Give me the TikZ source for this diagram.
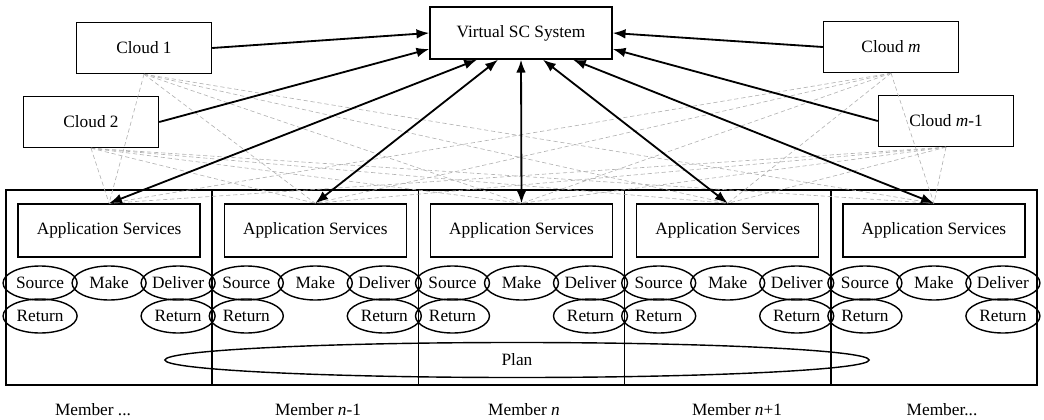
\documentclass[tikz,border=0pt]{standalone}
\usepackage{fontspec}
\setmainfont{Liberation Serif}
\usetikzlibrary{shapes.geometric,arrows.meta,positioning}

\tikzset{
  box/.style={draw,line width=1pt,inner sep=0pt},
  cloudbox/.style={box,minimum width=3.375cm,minimum height=1.275cm},
  scop/.style={draw,ellipse,line width=1pt,inner sep=0pt,minimum width=1.85cm,minimum height=0.85cm},
  link/.style={line width=1.3pt,-{Latex[length=3.2mm,width=2.4mm]}},
  twolink/.style={line width=1.3pt,{Latex[length=3.2mm,width=2.4mm]}-{Latex[length=3.2mm,width=2.4mm]}},
  faint/.style={gray!60,densely dashed,line width=0.45pt},
}

\begin{document}
\begin{tikzpicture}[x=0.025cm,y=-0.025cm,font=\fontsize{12.3}{14}\selectfont]
    \useasboundingbox (0,0) rectangle (1044,420);
    % virtual system and clouds
    \node[box,minimum width=4.55cm,minimum height=1.3cm] (vsc) at (521,33) {Virtual SC System};
    \node[cloudbox] (cloud1) at (144,48) {Cloud 1};
    \node[cloudbox] (cloud2) at (91,122) {Cloud 2};
    \node[cloudbox] (cloudm) at (891,47) {Cloud \textit{m}};
    \node[cloudbox] (cloudmm) at (946,121) {Cloud \textit{m}-1};
    % members
    \foreach \i in {1,...,5} {
        \pgfmathsetmacro\cx{109.1+206.2*(\i-1)}
        \node[box,minimum width=5.155cm,minimum height=4.875cm] (mem\i) at (\cx,287.5) {};
        \node[box,minimum width=4.55cm,minimum height=1.325cm] (app\i) at (\cx,230.5) {Application Services};
        \node[scop] (src\i) at (\cx-69,283) {Source};
        \node[scop] (mk\i) at (\cx,283) {Make};
        \node[scop] (dlv\i) at (\cx+69,283) {Deliver};
        \node[scop] (rtl\i) at (\cx-69,316) {Return};
        \node[scop] (rtr\i) at (\cx+69,316) {Return};
    }
    \node[draw,ellipse,line width=1pt,minimum width=17.6cm,minimum height=0.875cm] (plan) at (517,360) {Plan};
    % member names
    \node (lab1) at (93,410) {Member ...};
    \foreach \i/\x/\t in {2/318/Member \textit{n}-1,3/524/Member \textit{n},4/737/Member \textit{n}+1}
        \node (lab\i) at (\x,410) {\t};
    \node (lab5) at (942,410) {Member...};
    % dashed links clouds to members
    \foreach \c in {cloud1,cloud2,cloudm,cloudmm}
        \foreach \i in {1,...,5}
            \draw[faint] (\c.south) -- (app\i.north);
    % clouds to virtual system
    \draw[link] (cloud1.east) -- (vsc.west);
    \draw[link] (cloud2.east) -- ([yshift=-0.4cm]vsc.west);
    \draw[link] (cloudm.west) -- (vsc.east);
    \draw[link] (cloudmm.west) -- ([yshift=-0.4cm]vsc.east);
    % virtual system to members
    \foreach \i/\s in {1/-1.1,2/-0.575,3/0,4/0.55,5/1.3}
        \draw[twolink] ([xshift=\s cm]vsc.south) -- (app\i.north);
\end{tikzpicture}
\end{document}
